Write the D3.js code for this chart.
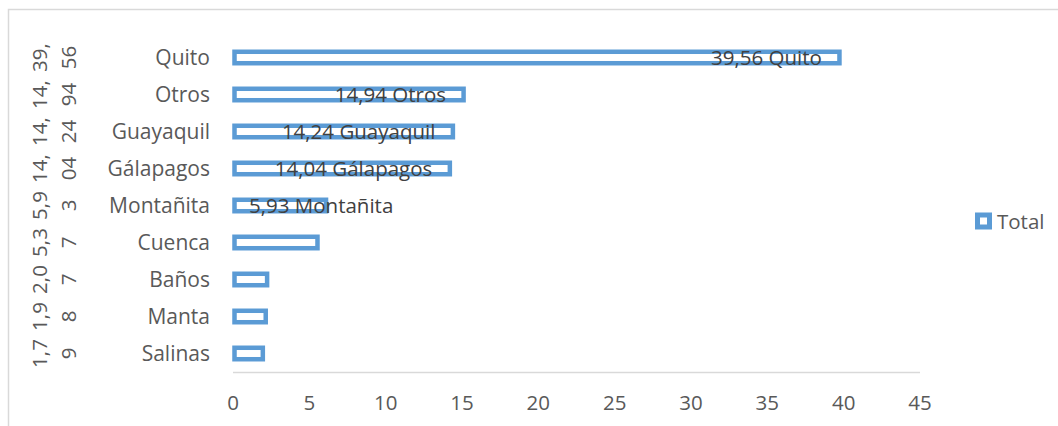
<!DOCTYPE html>
<html>
<head>
<meta charset="utf-8">
<script src="https://cdn.jsdelivr.net/npm/d3@7"></script>
<style>
  body { margin: 0; background: #fff; }
  svg { display: block; font-family: "Open Sans", sans-serif; }
</style>
</head>
<body>
<div id="main"></div>
<script>
const W = 1058, H = 426;

// data (top to bottom)
const categories = ["Quito", "Otros", "Guayaquil", "Gálapagos", "Montañita", "Cuenca", "Baños", "Manta", "Salinas"];
const totals = [39.56, 14.94, 14.24, 14.04, 5.93, 5.37, 2.07, 1.98, 1.79];
const labeled = ["Quito", "Otros", "Guayaquil", "Gálapagos", "Montañita"];
const xTicks = [0, 5, 10, 15, 20, 25, 30, 35, 40, 45];
const seriesName = "Total";

const blue = "#5b9bd5";
const data = categories.map((c, i) => ({ cat: c, val: totals[i] }));
const fmt = v => v.toFixed(2).replace(".", ",");

const svg = d3.select("#main").append("svg")
    .attr("width", W)
    .attr("height", H);

// chart area border
svg.append("rect")
    .attr("x", 8.5).attr("y", 9.5)
    .attr("width", 1200).attr("height", 600)
    .attr("fill", "none")
    .attr("stroke", "#d9d9d9")
    .attr("stroke-width", 1.5);

const x = d3.scaleLinear().domain([0, 45]).range([233, 920]);
const y = d3.scaleBand().domain(categories)
    .range([39, 372])
    .paddingInner(0.69)
    .paddingOuter(0.345);

// horizontal axis line
svg.append("line")
    .attr("x1", x(0)).attr("x2", x(45))
    .attr("y1", 372.5).attr("y2", 372.5)
    .attr("stroke", "#d9d9d9")
    .attr("stroke-width", 1.5);

// tick labels
svg.append("g").selectAll("text")
    .data(xTicks)
    .enter().append("text")
    .attr("x", d => x(d))
    .attr("y", 410)
    .attr("text-anchor", "middle")
    .attr("fill", "#595959")
    .style("font-size", "20.5px")
    .text(d => d);

// bars (outlined, no fill)
svg.append("g").selectAll("rect")
    .data(data)
    .enter().append("rect")
    .attr("x", x(0) + 1.5)
    .attr("y", d => y(d.cat))
    .attr("width", d => x(d.val) - x(0) + 1)
    .attr("height", y.bandwidth())
    .attr("fill", "#fff")
    .attr("stroke", blue)
    .attr("stroke-width", 4.5);

// category labels
svg.append("g").selectAll("text")
    .data(categories)
    .enter().append("text")
    .attr("x", 210)
    .attr("y", d => y(d) + y.bandwidth() / 2 + 7.5)
    .attr("text-anchor", "end")
    .attr("fill", "#595959")
    .style("font-size", "21px")
    .text(d => d);

// rotated value labels on the far left, wrapped in two lines
const side = svg.append("g").selectAll("g")
    .data(data)
    .enter().append("g")
    .attr("transform", d => `translate(0,${y(d.cat) + y.bandwidth() / 2}) rotate(-90)`);
side.append("text")
    .attr("x", 0).attr("y", 47)
    .attr("text-anchor", "middle")
    .attr("fill", "#595959")
    .style("font-size", "20.5px")
    .text(d => fmt(d.val).slice(0, 3));
side.append("text")
    .attr("x", 0).attr("y", 76)
    .attr("text-anchor", "middle")
    .attr("fill", "#595959")
    .style("font-size", "20.5px")
    .text(d => fmt(d.val).slice(3));

// data labels
svg.append("g").selectAll("text")
    .data(data.filter(d => labeled.includes(d.cat)))
    .enter().append("text")
    .attr("y", d => y(d.cat) + y.bandwidth() / 2 + 7.5)
    .attr("fill", "#404040")
    .style("font-size", "20.5px")
    .text(d => fmt(d.val) + " " + d.cat)
    .each(function (d) {
        const w = this.getComputedTextLength();
        let end = x(d.val) - 15;
        if (end - w < x(0) + 16) end = x(0) + 16 + w;
        d3.select(this).attr("x", end - w);
    });

// legend
const leg = svg.append("g").attr("transform", "translate(975,221)");
leg.append("rect")
    .attr("x", 2.5).attr("y", -6)
    .attr("width", 12).attr("height", 12)
    .attr("fill", "#fff")
    .attr("stroke", blue)
    .attr("stroke-width", 5);
leg.append("text")
    .attr("x", 22).attr("y", 7.5)
    .attr("fill", "#595959")
    .style("font-size", "20.5px")
    .text(seriesName);
</script>
</body>
</html>
